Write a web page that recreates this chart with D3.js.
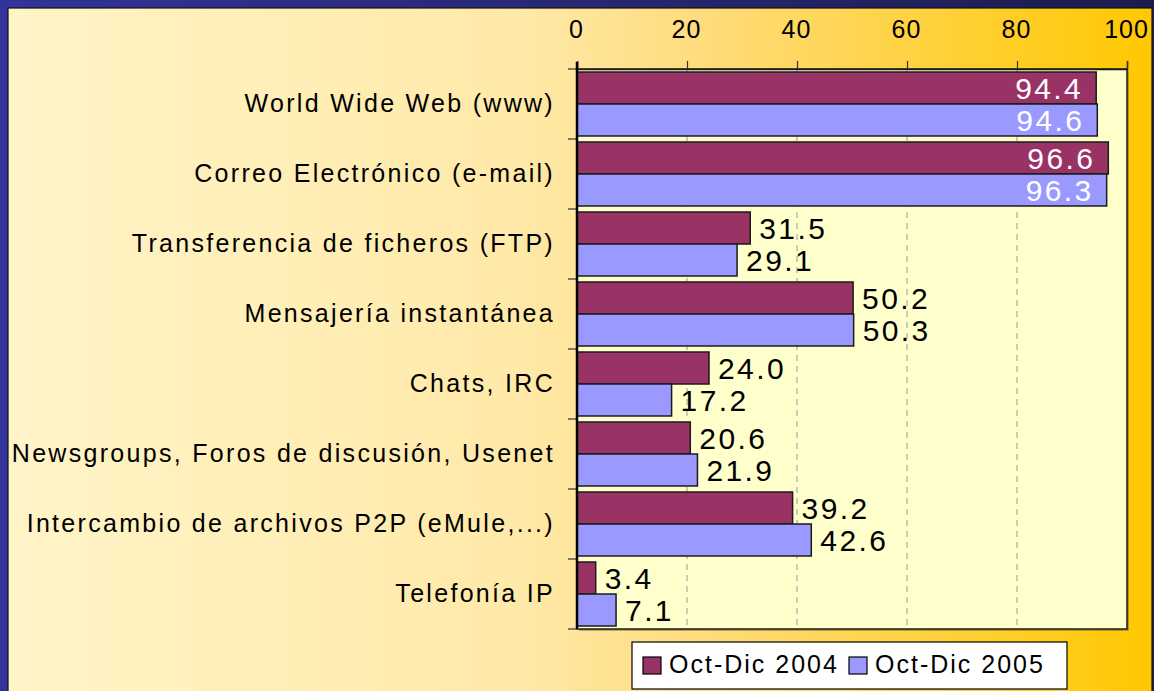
<!DOCTYPE html>
<html>
<head>
<meta charset="utf-8">
<script src="https://cdn.jsdelivr.net/npm/d3@7"></script>
<style>
html,body{margin:0;padding:0;background:#fff;}
svg{display:block;}
text{font-family:"Liberation Sans", Arial, sans-serif;}
</style>
</head>
<body>
<svg id="chart" width="1154" height="691"></svg>
<script>
const categories = [
  "World Wide Web (www)",
  "Correo Electrónico (e-mail)",
  "Transferencia de ficheros (FTP)",
  "Mensajería instantánea",
  "Chats, IRC",
  "Newsgroups, Foros de discusión, Usenet",
  "Intercambio de archivos P2P (eMule,...)",
  "Telefonía IP"
];
const seriesNames = ["Oct-Dic 2004", "Oct-Dic 2005"];
const values2004 = [94.4, 96.6, 31.5, 50.2, 24.0, 20.6, 39.2, 3.4];
const values2005 = [94.6, 96.3, 29.1, 50.3, 17.2, 21.9, 42.6, 7.1];
const tickValues = [0, 20, 40, 60, 80, 100];
const insideLabelCategories = ["World Wide Web (www)", "Correo Electrónico (e-mail)"];

const colors = ["#993366", "#9999FF"];
const svg = d3.select("#chart");
const defs = svg.append("defs");

// gradients
const bg = defs.append("linearGradient").attr("id", "bg").attr("x1", "0").attr("x2", "1").attr("y1", "0").attr("y2", "0");
bg.append("stop").attr("offset", "0%").attr("stop-color", "#FFF4C8");
bg.append("stop").attr("offset", "45%").attr("stop-color", "#FFE9A8");
bg.append("stop").attr("offset", "60%").attr("stop-color", "#FFDC7E");
bg.append("stop").attr("offset", "100%").attr("stop-color", "#FFC800");
const topBar = defs.append("linearGradient").attr("id", "topbar").attr("x1", "0").attr("x2", "1");
topBar.append("stop").attr("offset", "0%").attr("stop-color", "#333399");
topBar.append("stop").attr("offset", "100%").attr("stop-color", "#1C1C4E");

// frame
svg.append("rect").attr("x", 0).attr("y", 0).attr("width", 1154).attr("height", 691).attr("fill", "url(#topbar)");
svg.append("rect").attr("x", 0).attr("y", 0).attr("width", 8).attr("height", 691).attr("fill", "#333399");
svg.append("rect").attr("x", 8).attr("y", 8).attr("width", 1144).attr("height", 700)
  .attr("fill", "url(#bg)").attr("stroke", "#111").attr("stroke-width", 1.2);
svg.append("rect").attr("x", 1152).attr("y", 8).attr("width", 2).attr("height", 683).attr("fill", "#1C1C3A");

// scales
const x = d3.scaleLinear().domain([0, 100]).range([577, 1127]);
const y = d3.scaleBand().domain(categories).range([69, 629]).paddingInner(0).paddingOuter(0);
const ySub = d3.scaleBand().domain(seriesNames).range([0, y.bandwidth()]).paddingInner(0).paddingOuter(0.094);

// plot area with shadow
svg.append("rect").attr("x", x(0) + 2).attr("y", 71).attr("width", x(100) - x(0)).attr("height", 560)
  .attr("fill", "#6b5a2a").attr("opacity", 0.45);
svg.append("rect").attr("x", x(0)).attr("y", 69).attr("width", x(100) - x(0)).attr("height", 560)
  .attr("fill", "#FFFFCC").attr("stroke", "#1a1a1a").attr("stroke-width", 1.5);

// gridlines
svg.append("g").selectAll("line").data(tickValues.filter(v => v > 0 && v < 100)).join("line")
  .attr("x1", d => x(d)).attr("x2", d => x(d)).attr("y1", 69).attr("y2", 629)
  .attr("stroke", "#999").attr("stroke-width", 1).attr("stroke-dasharray", "6,5");

// top axis
const xAxis = d3.axisTop(x).tickValues(tickValues).tickSize(8).tickPadding(23).tickFormat(d3.format("d"));
const gx = svg.append("g").attr("transform", "translate(0,69)").call(xAxis);
gx.select(".domain").attr("stroke", "#1a1a1a").attr("stroke-width", 1.5);
gx.selectAll(".tick line").attr("stroke", "#333").attr("stroke-width", 1.2);
gx.selectAll(".tick text").attr("font-size", 25).attr("fill", "#000")
  .attr("letter-spacing", 1).attr("font-family", "Liberation Sans, Arial, sans-serif")
  .attr("dx", -1);

// left axis (labels)
const yAxis = d3.axisLeft(y).tickSize(0).tickPadding(22);
const gy = svg.append("g").attr("transform", "translate(577,0)").call(yAxis);
gy.select(".domain").remove();
gy.selectAll(".tick text").attr("font-size", 25).attr("fill", "#000")
  .attr("letter-spacing", 2.3).attr("font-family", "Liberation Sans, Arial, sans-serif");

// category boundary ticks
const bounds = categories.map(c => y(c)).concat([y.range()[1]]);
svg.append("g").selectAll("line").data(bounds).join("line")
  .attr("x1", 568).attr("x2", 577).attr("y1", d => d).attr("y2", d => d)
  .attr("stroke", "#555").attr("stroke-width", 1.5);

// bars
const seriesData = [values2004, values2005];
seriesData.forEach((vals, si) => {
  const g = svg.append("g");
  const rows = categories.map((c, i) => ({ c, v: vals[i] }));
  g.selectAll("rect").data(rows).join("rect")
    .attr("x", x(0))
    .attr("y", d => y(d.c) + ySub(seriesNames[si]))
    .attr("width", d => x(d.v) - x(0))
    .attr("height", ySub.bandwidth())
    .attr("fill", colors[si])
    .attr("stroke", "#1a1a1a").attr("stroke-width", 1.5);
  g.selectAll("text").data(rows).join("text")
    .attr("x", d => insideLabelCategories.includes(d.c) ? x(d.v) - 13 : x(d.v) + 9)
    .attr("y", d => y(d.c) + ySub(seriesNames[si]) + ySub.bandwidth() / 2)
    .attr("dy", "0.36em")
    .attr("text-anchor", d => insideLabelCategories.includes(d.c) ? "end" : "start")
    .attr("font-size", 30).attr("letter-spacing", 2.4)
    .attr("fill", d => insideLabelCategories.includes(d.c) ? "#fff" : "#000")
    .text(d => d.v.toFixed(1));
});

// left axis line
svg.append("line").attr("x1", 577).attr("x2", 577).attr("y1", 62).attr("y2", 629)
  .attr("stroke", "#000").attr("stroke-width", 2.5);

// legend
const lg = svg.append("g");
lg.append("rect").attr("x", 632).attr("y", 642).attr("width", 435).attr("height", 47)
  .attr("fill", "#fff").attr("stroke", "#000").attr("stroke-width", 1.2);
const legendX = [643, 849];
seriesNames.forEach((s, i) => {
  lg.append("rect").attr("x", legendX[i]).attr("y", 657).attr("width", 18).attr("height", 17)
    .attr("fill", colors[i]).attr("stroke", "#000").attr("stroke-width", 1.2);
  lg.append("text").attr("x", legendX[i] + 26).attr("y", 673)
    .attr("font-size", 25).attr("letter-spacing", 2).attr("fill", "#000").text(s);
});
</script>
</body>
</html>
